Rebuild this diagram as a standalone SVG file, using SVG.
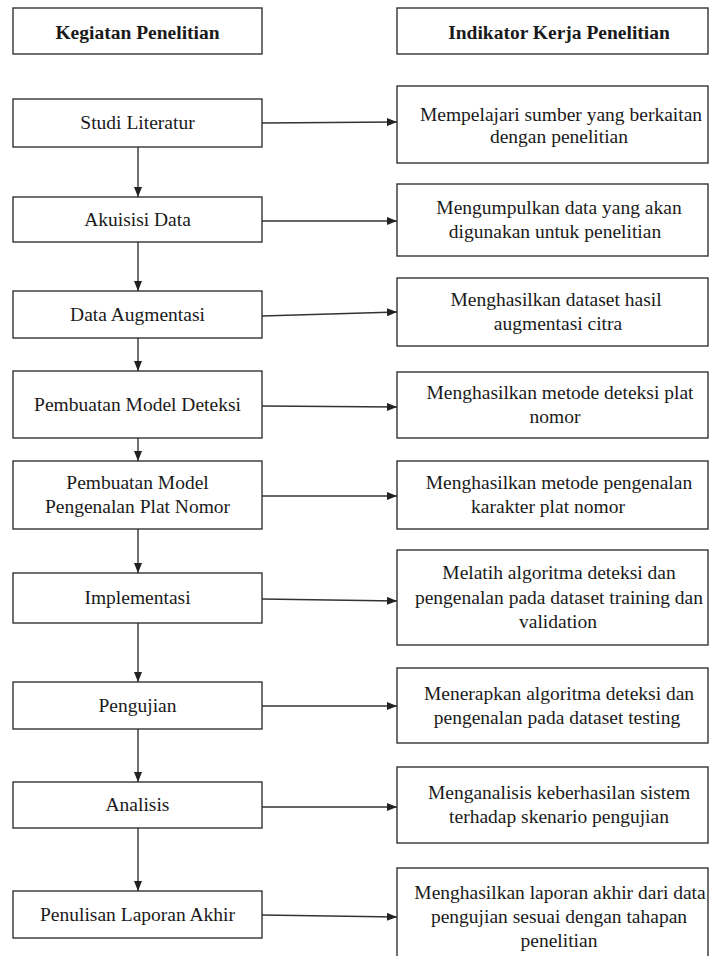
<svg xmlns="http://www.w3.org/2000/svg" width="710" height="956" viewBox="0 0 710 956">
<defs>
<marker id="ah" markerUnits="userSpaceOnUse" markerWidth="10" markerHeight="8" refX="10" refY="4" orient="auto">
<path d="M0,0 L10,4 L0,8 z" fill="#222"/>
</marker>
<style>
.box{fill:#fff;stroke:#333;stroke-width:1.4}
.t{font-family:'Liberation Serif','Times New Roman',serif;font-size:19.5px;fill:#1a1a1a;text-anchor:middle}
.h{font-weight:bold}
.c{fill:none;stroke:#333;stroke-width:1.4;marker-end:url(#ah)}
</style>
</defs>
<rect width="710" height="956" fill="#fff"/>
<g id="hdr-left"><rect class="box" x="13" y="8" width="249" height="46"/><text class="t h" x="137.5" y="39">Kegiatan Penelitian</text></g>
<g id="hdr-right"><rect class="box" x="397" y="8" width="311" height="46"/><text class="t h" x="559" y="39">Indikator Kerja Penelitian</text></g>

<g id="k1"><rect class="box" x="13" y="99" width="249" height="48"/><text class="t" x="137.5" y="129">Studi Literatur</text></g>
<g id="k2"><rect class="box" x="13" y="197" width="249" height="45"/><text class="t" x="137.5" y="226">Akuisisi Data</text></g>
<g id="k3"><rect class="box" x="13" y="291" width="249" height="47"/><text class="t" x="137.5" y="321">Data Augmentasi</text></g>
<g id="k4"><rect class="box" x="13" y="371" width="249" height="67"/><text class="t" x="137.5" y="411">Pembuatan Model Deteksi</text></g>
<g id="k5"><rect class="box" x="13" y="461" width="249" height="68"/><text class="t" x="137.5" y="489">Pembuatan Model</text><text class="t" x="137.5" y="513">Pengenalan Plat Nomor</text></g>
<g id="k6"><rect class="box" x="13" y="573" width="249" height="50"/><text class="t" x="137.5" y="604">Implementasi</text></g>
<g id="k7"><rect class="box" x="13" y="682" width="249" height="47"/><text class="t" x="137.5" y="712">Pengujian</text></g>
<g id="k8"><rect class="box" x="13" y="782" width="249" height="46"/><text class="t" x="137.5" y="811">Analisis</text></g>
<g id="k9"><rect class="box" x="13" y="891" width="249" height="47"/><text class="t" x="137.5" y="921">Penulisan Laporan Akhir</text></g>

<g id="i1"><rect class="box" x="397" y="86" width="311" height="77"/><text class="t" x="561" y="121">Mempelajari sumber yang berkaitan</text><text class="t" x="559" y="143">dengan penelitian</text></g>
<g id="i2"><rect class="box" x="397" y="184" width="311" height="72"/><text class="t" x="559" y="214">Mengumpulkan data yang akan</text><text class="t" x="555" y="238">digunakan untuk penelitian</text></g>
<g id="i3"><rect class="box" x="397" y="278" width="311" height="68"/><text class="t" x="556" y="306">Menghasilkan dataset hasil</text><text class="t" x="558" y="330">augmentasi citra</text></g>
<g id="i4"><rect class="box" x="397" y="372" width="311" height="66"/><text class="t" x="560" y="399">Menghasilkan metode deteksi plat</text><text class="t" x="555" y="423">nomor</text></g>
<g id="i5"><rect class="box" x="397" y="461" width="311" height="68"/><text class="t" x="559" y="489">Menghasilkan metode pengenalan</text><text class="t" x="548" y="513">karakter plat nomor</text></g>
<g id="i6"><rect class="box" x="397" y="550" width="311" height="95"/><text class="t" x="559" y="579">Melatih algoritma deteksi dan</text><text class="t" x="559" y="604">pengenalan pada dataset training dan</text><text class="t" x="558" y="628">validation</text></g>
<g id="i7"><rect class="box" x="397" y="668" width="311" height="75"/><text class="t" x="559" y="700">Menerapkan algoritma deteksi dan</text><text class="t" x="557" y="724">pengenalan pada dataset testing</text></g>
<g id="i8"><rect class="box" x="397" y="767" width="311" height="76"/><text class="t" x="559" y="799">Menganalisis keberhasilan sistem</text><text class="t" x="559" y="823">terhadap skenario pengujian</text></g>
<g id="i9"><rect class="box" x="397" y="868" width="311" height="100"/><text class="t" x="560" y="899">Menghasilkan laporan akhir dari data</text><text class="t" x="559" y="923">pengujian sesuai dengan tahapan</text><text class="t" x="559" y="947">penelitian</text></g>

<g id="connectors">
<line class="c" x1="138" y1="147" x2="138" y2="197"/>
<line class="c" x1="138" y1="242" x2="138" y2="291"/>
<line class="c" x1="138" y1="338" x2="138" y2="371"/>
<line class="c" x1="138" y1="438" x2="138" y2="461"/>
<line class="c" x1="138" y1="529" x2="138" y2="573"/>
<line class="c" x1="138" y1="623" x2="138" y2="682"/>
<line class="c" x1="138" y1="729" x2="138" y2="782"/>
<line class="c" x1="138" y1="828" x2="138" y2="891"/>
<line class="c" x1="262" y1="123" x2="397" y2="122"/>
<line class="c" x1="262" y1="221" x2="397" y2="221"/>
<line class="c" x1="262" y1="316" x2="397" y2="312"/>
<line class="c" x1="262" y1="406" x2="397" y2="407"/>
<line class="c" x1="262" y1="496" x2="397" y2="496"/>
<line class="c" x1="262" y1="599" x2="397" y2="601"/>
<line class="c" x1="262" y1="706" x2="397" y2="706"/>
<line class="c" x1="262" y1="807" x2="397" y2="807"/>
<line class="c" x1="262" y1="915" x2="397" y2="917"/>
</g>
</svg>
